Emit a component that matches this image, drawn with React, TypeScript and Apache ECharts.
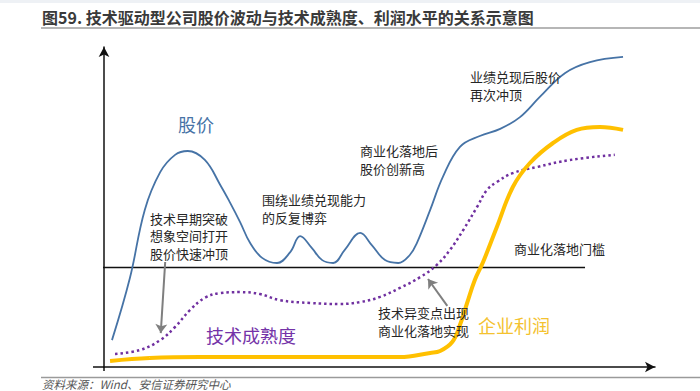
import React, { useEffect, useRef } from "react";
import * as echarts from "echarts";

// Schematic curves (x: time 0-100, y: level 0-100)
const pricePoints: number[][] = [
  [1.45, 8.4], [4.7, 27.8], [7.4, 49.1], [10.2, 60.9], [12.9, 66.3], [15.2, 67.5],
  [18.3, 64.7], [21.1, 56.9], [22.9, 51.3], [24.7, 45.3], [26.5, 38.8], [28.7, 34.1],
  [31.4, 32.5], [33.8, 35.9], [35.6, 40.9], [37.7, 37.2], [39.6, 33.4], [41.6, 32.5],
  [43.7, 36.6], [46.5, 41.9], [48.6, 38.1], [51.0, 33.4], [53.4, 32.5], [55.5, 35.0],
  [56.8, 38.8], [59.2, 49.1], [61.5, 59.4], [64.6, 68.8], [68.2, 72.2], [71.9, 74.4],
  [75.5, 78.1], [79.1, 84.4], [83.7, 91.9], [88.2, 95.3], [94.2, 96.9],
];
const maturityPoints: number[][] = [
  [2.0, 4.1], [6.5, 5.3], [10.2, 8.4], [12.9, 12.5], [15.6, 17.8], [18.3, 21.6],
  [21.1, 23.1], [24.7, 23.4], [28.3, 22.8], [31.9, 20.9], [37.4, 20.0], [42.8, 19.7],
  [46.5, 20.3], [50.1, 21.9], [53.7, 24.7], [57.4, 28.1], [60.4, 31.9], [62.8, 36.6],
  [65.2, 42.8], [67.7, 50.0], [69.5, 55.3], [71.3, 57.8], [74.2, 60.6], [78.6, 62.5],
  [84.6, 64.7], [92.7, 66.3],
];
const profitPoints: number[][] = [
  [1.1, 1.9], [8.3, 2.8], [17.4, 3.1], [28.3, 3.1], [41.0, 3.1], [53.7, 3.1],
  [59.2, 4.4], [61.0, 5.0], [63.2, 7.8], [64.6, 13.1], [65.9, 20.0], [67.3, 27.2],
  [68.8, 32.8], [71.3, 43.75], [74.2, 56.25], [77.3, 63.75], [81.5, 70.0], [85.8, 74.1],
  [90.0, 75.0], [94.2, 74.1],
];
const thresholdPoints: number[][] = [[-5.6, 31.1], [87.3, 31.1]];
const arrowEarly: number[][] = [[11.1, 32.8], [10.3, 10.6]];
const arrowShift: number[][] = [[62.3, 19.1], [58.8, 27.5]];

const title = "图59. 技术驱动型公司股价波动与技术成熟度、利润水平的关系示意图";
const source = "资料来源：Wind、安信证券研究中心";
const notes = {
  early: ["技术早期突破", "想象空间打开", "股价快速冲顶"],
  game: ["围绕业绩兑现能力", "的反复博弈"],
  newHigh: ["商业化落地后", "股价创新高"],
  again: ["业绩兑现后股价", "再次冲顶"],
  threshold: ["商业化落地门槛"],
  shift: ["技术异变点出现", "商业化落地实现"],
};
const seriesNames = { price: "股价", maturity: "技术成熟度", profit: "企业利润" };

const FONT = '"Noto Sans CJK SC", "Noto Sans", sans-serif';
const BLUE = "#4673a6";
const PURPLE = "#7030A0";
const YELLOW = "#FFC000";

export default function App() {
  const ref = useRef<HTMLDivElement>(null);
  useEffect(() => {
    if (!ref.current) return;
    const chart = echarts.init(ref.current, null, { renderer: "svg" });
    const noteText = (lines: string[], x: number, y: number, lh: number) =>
      lines.map((text, i) => ({
        type: "text",
        x,
        y: y + i * lh,
        z: 50,
        style: {
          text,
          font: `13px ${FONT}`,
          fill: "#262626",
          verticalAlign: "middle",
        },
      }));
    const arrowLine = (pts: number[][]) => [
      { coord: pts[0], symbol: "none" },
      { coord: pts[1], symbol: "arrow" },
    ];
    chart.setOption({
      animation: false,
      grid: { left: 104, right: 45, top: 47, bottom: 24 },
      xAxis: {
        type: "value",
        min: 0,
        max: 100,
        axisLabel: { show: false },
        axisTick: { show: false },
        splitLine: { show: false },
        axisLine: {
          show: true,
          symbol: ["none", "arrow"],
          symbolSize: [8, 10],
          lineStyle: { color: "#111", width: 1.5 },
        },
      },
      yAxis: {
        type: "value",
        min: 0,
        max: 100,
        axisLabel: { show: false },
        axisTick: { show: false },
        splitLine: { show: false },
        axisLine: {
          show: true,
          symbol: ["none", "arrow"],
          symbolSize: [8, 10],
          lineStyle: { color: "#111", width: 1.5 },
        },
      },
      series: [
        {
          type: "line",
          name: "threshold",
          data: thresholdPoints,
          clip: false,
          showSymbol: false,
          silent: true,
          lineStyle: { color: "#111", width: 1.5 },
          z: 1,
        },
        {
          type: "line",
          name: seriesNames.maturity,
          data: maturityPoints,
          smooth: 0.4,
          showSymbol: false,
          lineStyle: { color: PURPLE, width: 2.5, type: [2.5, 3], cap: "butt" },
          z: 2,
        },
        {
          type: "line",
          name: seriesNames.profit,
          data: profitPoints,
          smooth: 0.4,
          showSymbol: false,
          lineStyle: { color: YELLOW, width: 4 },
          z: 3,
        },
        {
          type: "line",
          name: seriesNames.price,
          data: pricePoints,
          smooth: 0.4,
          showSymbol: false,
          lineStyle: { color: BLUE, width: 1.8 },
          z: 4,
          markLine: {
            silent: true,
            symbolSize: 9,
            label: { show: false },
            lineStyle: { color: "#7f7f7f", width: 2, type: "solid" },
            data: [arrowLine(arrowEarly), arrowLine(arrowShift)],
          },
        },
      ],
      graphic: [
        { type: "rect", shape: { x: 0, y: 0, width: 700, height: 3 }, style: { fill: "#eef1f5" } },
        {
          type: "text",
          x: 42,
          y: 17,
          style: {
            text: title,
            font: `bold 16px ${FONT}`,
            fill: "#3a3a3a",
            verticalAlign: "middle",
          },
        },
        { type: "line", shape: { x1: 41, y1: 28, x2: 700, y2: 28 }, style: { stroke: "#6f6f6f", lineWidth: 1.2 } },
        { type: "line", shape: { x1: 41, y1: 377.5, x2: 700, y2: 377.5 }, style: { stroke: "#9a9a9a", lineWidth: 1.5 } },
        { type: "line", shape: { x1: 93, y1: 367, x2: 104, y2: 367 }, style: { stroke: "#111", lineWidth: 1.5 } },
        { type: "line", shape: { x1: 104, y1: 367, x2: 104, y2: 371 }, style: { stroke: "#111", lineWidth: 1.5 } },
        {
          type: "text",
          x: 42,
          y: 384,
          style: {
            text: source,
            font: `italic 11.5px ${FONT}`,
            fill: "#555",
            verticalAlign: "middle",
          },
        },
        {
          type: "text",
          x: 178,
          y: 124,
          style: { text: seriesNames.price, font: `18px ${FONT}`, fill: BLUE, verticalAlign: "middle" },
        },
        {
          type: "text",
          x: 206,
          y: 335,
          style: { text: seriesNames.maturity, font: `18px ${FONT}`, fill: "#7433A8", verticalAlign: "middle" },
        },
        {
          type: "text",
          x: 478,
          y: 325,
          style: { text: seriesNames.profit, font: `18px ${FONT}`, fill: "#F4C22F", verticalAlign: "middle" },
        },
        ...noteText(notes.early, 150, 218, 17.5),
        ...noteText(notes.game, 262, 199, 18),
        ...noteText(notes.newHigh, 360, 150, 18),
        ...noteText(notes.again, 470, 76.5, 17.5),
        ...noteText(notes.threshold, 514, 248, 16),
        ...noteText(notes.shift, 378, 312.5, 17.5),
      ],
    });
    return () => chart.dispose();
  }, []);
  return (
    <div
      ref={ref}
      style={{ position: "fixed", left: 0, top: 0, width: 700, height: 391, background: "#fff" }}
    />
  );
}
